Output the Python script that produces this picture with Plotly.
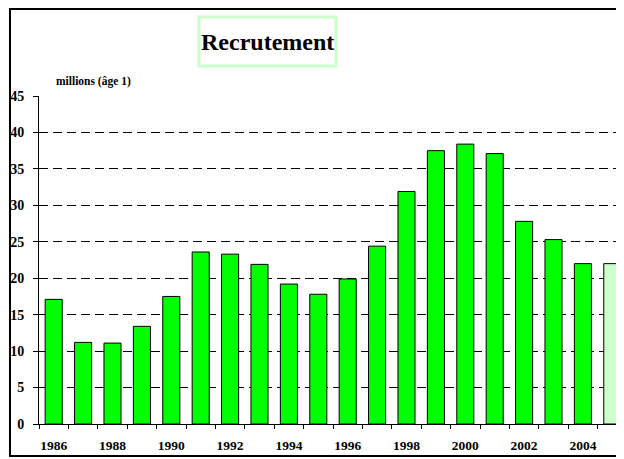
import plotly.graph_objects as go

years = list(range(1986, 2006))
recrutement = [17.1, 11.2, 11.1, 13.4, 17.5, 23.6, 23.3, 21.9, 19.2, 17.8,
               19.9, 24.4, 31.9, 37.5, 38.4, 37.1, 27.8, 25.3, 22.0, 22.0]
bar_colors = ["#00ff00"] * 19 + ["#ccffcc"]
tick_years = list(range(1986, 2005, 2))
y_ticks = list(range(0, 50, 5))

FONT = "Liberation Serif"

fig = go.Figure()
fig.add_trace(go.Bar(
    x=years, y=recrutement,
    marker=dict(color=bar_colors, line=dict(color="black", width=1)),
    showlegend=False,
))

OFF = 8  # page body margin
W, H = 624 - OFF, 459 - OFF
L = 39 - OFF
T = 96 - OFF
B = H - (424 - OFF)
pw = W - L
ph = H - T - B


def px_x(px):
    return (px - OFF - L) / pw


def px_y(py):
    return (H - B - (py - OFF)) / ph


fig.update_layout(
    width=W, height=H,
    margin=dict(l=L, r=0, t=T, b=B, pad=0),
    paper_bgcolor="white", plot_bgcolor="white",
    bargap=0.42,
    font=dict(family=FONT, color="black"),
    xaxis=dict(
        range=[1985.5, 1985.5 + pw / 29.4],
        tickvals=tick_years, ticktext=[f"<b>{y}</b>" for y in tick_years],
        ticks="", showgrid=False, zeroline=False,
        showline=True, linecolor="black", linewidth=1,
        tickfont=dict(family=FONT, size=13.5),
        ticklabelstandoff=9,
        minor=dict(tick0=1985.5, dtick=1, ticks="outside", ticklen=4,
                   tickcolor="black", showgrid=False),
    ),
    yaxis=dict(
        range=[0, 45], tickvals=y_ticks,
        ticktext=[f"<b>{v}</b>" for v in y_ticks],
        ticks="outside", ticklen=5, tickcolor="black",
        ticklabelstandoff=6,
        showgrid=True, gridcolor="black", gridwidth=1, griddash="9px,5px",
        zeroline=False, showline=True, linecolor="black", linewidth=1,
        tickfont=dict(family=FONT, size=14),
    ),
    shapes=[
        dict(type="rect", xref="paper", yref="paper",
             x0=px_x(10), x1=px_x(640), y0=px_y(456), y1=px_y(9),
             line=dict(color="black", width=2), fillcolor="rgba(0,0,0,0)",
             layer="above"),
        dict(type="rect", xref="paper", yref="paper",
             x0=px_x(199), x1=px_x(336), y0=px_y(66), y1=px_y(17),
             line=dict(color="#ccffcc", width=3), fillcolor="white"),
    ],
    annotations=[
        dict(text="<b>Recrutement</b>", xref="paper", yref="paper",
             x=px_x(267.5), y=px_y(42), xanchor="center", yanchor="middle",
             showarrow=False, font=dict(family=FONT, size=24, color="black")),
        dict(text="<b>millions (âge 1)</b>", xref="paper", yref="paper",
             x=px_x(54), y=px_y(81), xanchor="left", yanchor="middle",
             showarrow=False, font=dict(family=FONT, size=11.5, color="black")),
    ],
)

fig.write_html("out.html")
